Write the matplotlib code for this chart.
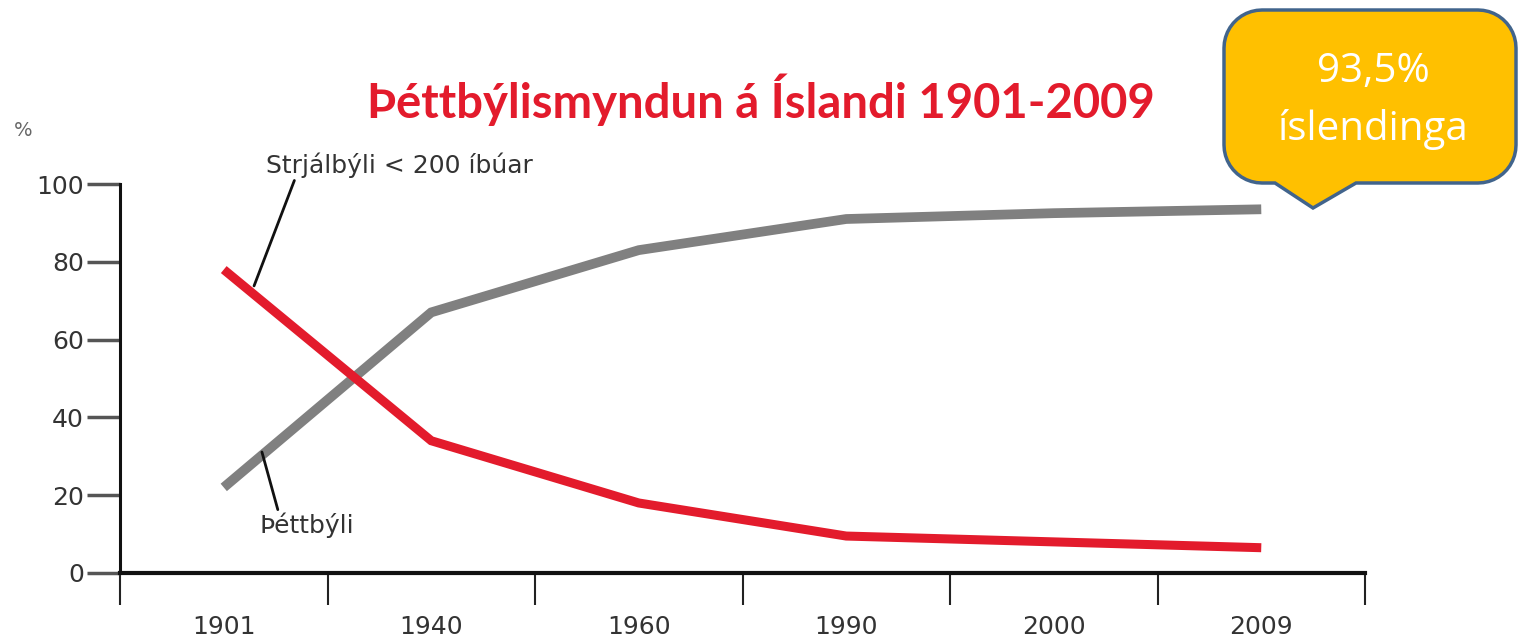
import matplotlib
matplotlib.use("Agg")
import matplotlib.pyplot as plt
from matplotlib.patches import Polygon
import numpy as np

# data
years = ["1901", "1940", "1960", "1990", "2000", "2009"]
thettbyli = [22, 67, 83, 91, 92.5, 93.5]     # urban, grey line
strjalbyli = [78, 34, 18, 9.5, 8, 6.5]        # rural, red line
y_ticks = [0, 20, 40, 60, 80, 100]

W, H = 1519, 642
RED = "#e31b2c"
GREY = "#808080"
TXT = "#333333"

fig = plt.figure(figsize=(W / 100, H / 100), dpi=100)


def fx(px):
    return px / W


def fy(py):
    return 1 - py / H


ax = fig.add_axes([fx(120), fy(573), fx(1365) - fx(120), fy(184) - fy(573)])
x = np.arange(len(years))

ax.plot(x, thettbyli, color=GREY, lw=7, solid_capstyle="butt", solid_joinstyle="miter", zorder=3)
ax.plot(x, strjalbyli, color=RED, lw=6.5, solid_capstyle="butt", solid_joinstyle="miter", zorder=4)

ax.set_xlim(-0.5, len(years) - 0.5)
ax.set_ylim(0, 100)

for side in ["top", "right"]:
    ax.spines[side].set_visible(False)
ax.spines["bottom"].set_linewidth(3)
ax.spines["left"].set_linewidth(2.2)
ax.spines["bottom"].set_color("#111111")
ax.spines["left"].set_color("#111111")

# y ticks stick out to the left
ax.set_yticks(y_ticks)
ax.tick_params(axis="y", direction="out", length=24, width=2.5, color="#555555",
               labelsize=18, labelcolor=TXT, pad=2)

# x ticks between categories, labels centered under each point
ax.set_xticks(np.arange(-0.5, len(years)))
ax.set_xticklabels([])
ax.tick_params(axis="x", which="major", direction="out", length=23, width=1.5, color="#222222")
ax.set_xticks(x, minor=True)
ax.set_xticklabels(years, minor=True)
ax.tick_params(axis="x", which="minor", length=0, labelsize=18, labelcolor=TXT, pad=30)

fig.text(fx(14), fy(131), "%", fontsize=14, color="#666666", va="center", ha="left")

fig.text(fx(761), fy(100), "Þéttbýlismyndun á Íslandi 1901-2009", color=RED,
         fontsize=34, fontweight="bold", family="Lato", ha="center", va="center")

# leader labels
ax.annotate("Strjálbýli < 200 íbúar", xy=(0.146, 73.8), xytext=(0.204, 104.9),
            textcoords="data", fontsize=18, color=TXT, va="center", ha="left",
            annotation_clip=False,
            arrowprops=dict(arrowstyle="-", color="#111111", lw=2,
                            shrinkA=0, shrinkB=0, relpos=(0.11, 0)))
ax.annotate("Þéttbýli", xy=(0.184, 31.1), xytext=(0.173, 12.3),
            textcoords="data", fontsize=18, color=TXT, va="center", ha="left",
            annotation_clip=False,
            arrowprops=dict(arrowstyle="-", color="#111111", lw=2,
                            shrinkA=0, shrinkB=0, relpos=(0.2, 1)))

# speech bubble in pixel space
left, right, top, bot, r = 1224, 1516, 10, 183, 38
tail = [(1356, bot), (1313, 208), (1275, bot)]


def arc(cx, cy, a0, a1):
    t = np.radians(np.linspace(a0, a1, 12))
    return [(cx + r * np.cos(t_), cy - r * np.sin(t_)) for t_ in t]


pts = arc(left + r, top + r, 90, 180)
pts += arc(left + r, bot - r, 180, 270)
pts += tail[::-1]
pts += arc(right - r, bot - r, 270, 360)
pts += arc(right - r, top + r, 0, 90)
bubble = Polygon([(fx(a), fy(b)) for a, b in pts], closed=True, transform=fig.transFigure,
                 facecolor="#ffc000", edgecolor="#41648c", lw=2.5, zorder=10)
fig.patches.append(bubble)

fig.text(fx(1373), fy(72), "93,5%", color="white", fontsize=29, family="Open Sans",
         ha="center", va="center", zorder=11)
fig.text(fx(1373), fy(130), "íslendinga", color="white", fontsize=29, family="Open Sans",
         ha="center", va="center", zorder=11)

fig.savefig("out.png", dpi=100, facecolor="white")
